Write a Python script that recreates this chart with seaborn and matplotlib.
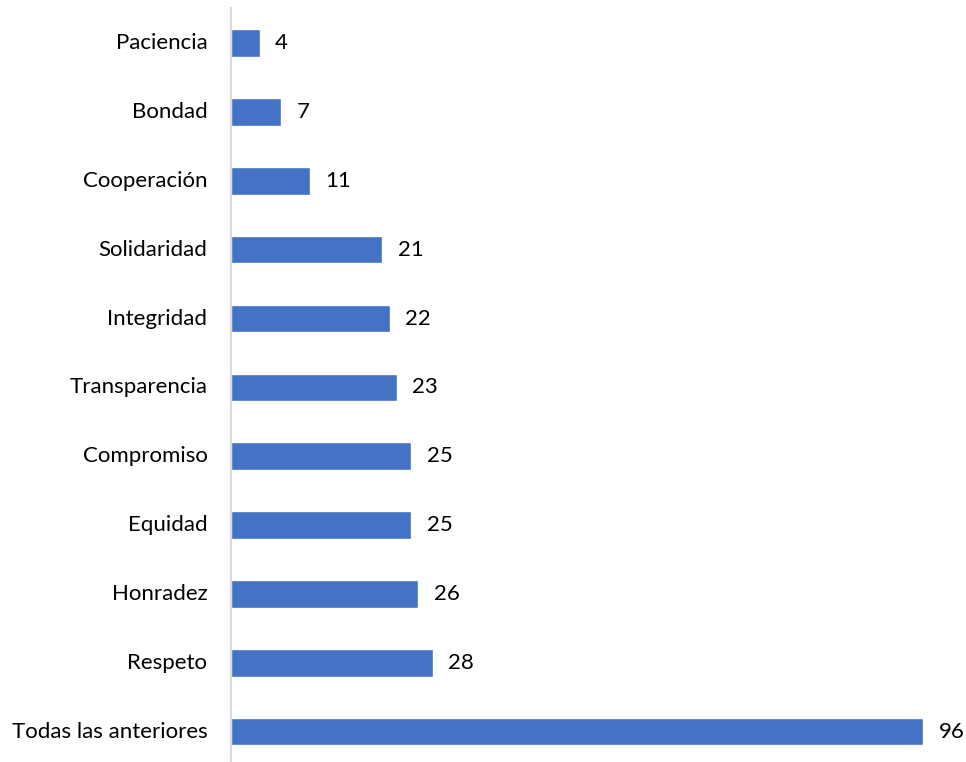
import matplotlib
matplotlib.use("Agg")
import matplotlib.pyplot as plt
import seaborn as sns
import pandas as pd

categories = ["Paciencia", "Bondad", "Cooperación", "Solidaridad", "Integridad",
              "Transparencia", "Compromiso", "Equidad", "Honradez", "Respeto",
              "Todas las anteriores"]
values = [4, 7, 11, 21, 22, 23, 25, 25, 26, 28, 96]

df = pd.DataFrame({"valor": values, "categoria": categories})

sns.set_theme(style="white")
plt.rcParams["font.family"] = ["Lato", "DejaVu Sans"]

fig = plt.figure(figsize=(9.66, 7.62), dpi=100)
ax = fig.add_axes([231 / 966, 0.0, (952 - 231) / 966, 1 - 8 / 762])

sns.barplot(data=df, x="valor", y="categoria", order=categories,
            color="#4472C4", saturation=1, width=0.4, ax=ax)

ax.set_xlim(0, 100)
ax.set_ylim(10.44, -0.51)
ax.set_xlabel("")
ax.set_ylabel("")
ax.set_xticks([])
ax.tick_params(axis="y", length=0, pad=17, labelsize=16, labelcolor="#000000")
for lbl in ax.get_yticklabels():
    lbl.set_verticalalignment("center")

for side in ["top", "right", "bottom"]:
    ax.spines[side].set_visible(False)
ax.spines["left"].set_color("#D9D9D9")
ax.spines["left"].set_linewidth(1.5)

for container in ax.containers:
    labels = ax.bar_label(container, labels=[str(v) for v in values],
                          padding=11, fontsize=16, color="#000000")
    for t in labels:
        t.set_clip_on(False)
        t.set_verticalalignment("center")

fig.savefig("out.png", dpi=100)
